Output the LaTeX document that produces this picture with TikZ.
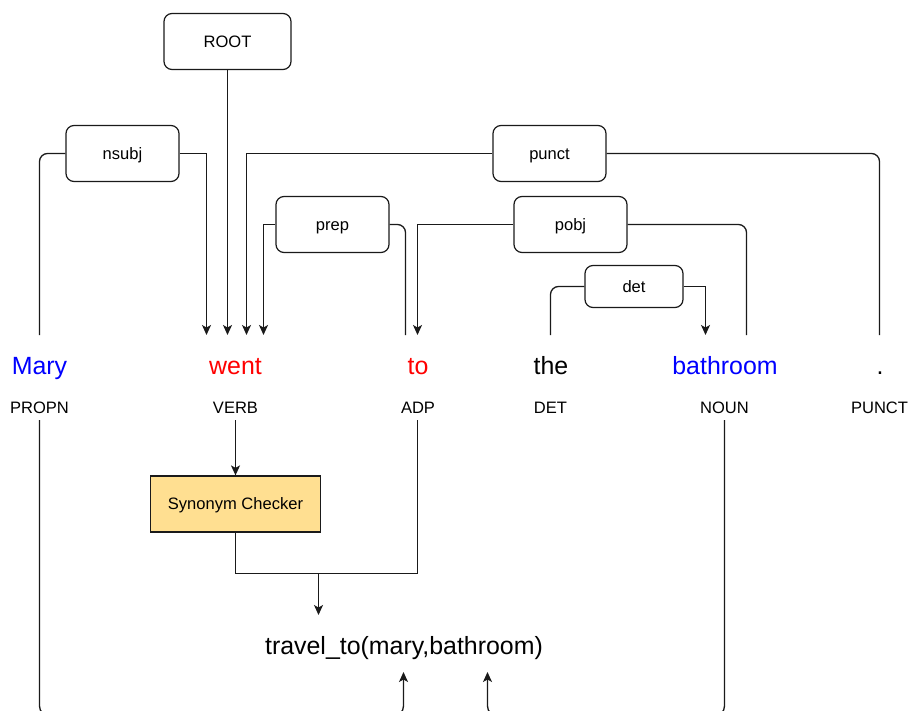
\documentclass[tikz,border=0pt]{standalone}
\usepackage{fontspec}
\setmainfont{Liberation Sans}
\usetikzlibrary{arrows.meta}
\definecolor{synfill}{HTML}{FFDF91}
\definecolor{edge}{HTML}{1A1A1A}
\begin{document}
\begin{tikzpicture}[x=1bp,y=-1bp,
  line width=1.3bp,
  ln/.style={draw=edge},
  lbl/.style={draw=edge, line width=1.2bp, rounded corners=8bp, minimum width=113bp, minimum height=57bp, inner sep=0pt,
    font=\fontsize{16.6}{19}\selectfont, text height=11.9pt, text depth=0pt},
  word/.style={anchor=base, inner sep=0pt, font=\fontsize{25}{30}\selectfont},
  postag/.style={anchor=base, inner sep=0pt, font=\fontsize{16.6}{19}\selectfont},
  arr/.style={ln, -{Stealth[length=10bp,width=9bp,inset=2.5bp]}},
  rnd/.style={ln, rounded corners=8bp},
]
\useasboundingbox (0,0) rectangle (910,711);
\clip (0,0) rectangle (910,711);

% words
\node[word, text=blue] (w1) at (39.5,374) {Mary};
\node[word, text=red]  (w2) at (235.5,374) {went};
\node[word, text=red]  (w3) at (418,374) {to};
\node[word]            (w4) at (551,374) {the};
\node[word, text=blue] (w5) at (725,374) {bathroom};
\node[word]            (w6) at (880,374) {.};

% POS tags
\node[postag] (p1) at (39.5,413) {PROPN};
\node[postag] (p2) at (235.5,413) {VERB};
\node[postag] (p3) at (418,413) {ADP};
\node[postag] (p4) at (550.5,413) {DET};
\node[postag] (p5) at (724.5,413) {NOUN};
\node[postag] (p6) at (879.5,413) {PUNCT};

% dependency label boxes
\node[lbl, minimum width=127bp, minimum height=56bp] (root) at (227.5,41.5) {ROOT};
\node[lbl, minimum height=56bp] (nsubj) at (122.5,153.5) {nsubj};
\node[lbl, minimum height=56bp] (punct) at (549.5,153.5) {punct};
\node[lbl, minimum height=56bp] (prep) at (332.5,224.5) {prep};
\node[lbl, minimum height=56bp] (pobj) at (570.5,224.5) {pobj};
\node[lbl, minimum width=98bp, minimum height=42bp] (det) at (634,286.5) {det};

% attachment points above the words
\coordinate (maryT) at (39.5,335);
\coordinate (wentA) at (206.5,335);
\coordinate (wentB) at (227.5,335);
\coordinate (wentC) at (246.5,335);
\coordinate (wentD) at (263.5,335);
\coordinate (toA)   at (405.5,335);
\coordinate (toB)   at (417.5,335);
\coordinate (theT)  at (550.5,335);
\coordinate (bathA) at (705.5,335);
\coordinate (bathB) at (746.5,335);
\coordinate (dotT)  at (879.5,335);

% dependency arcs
\draw[rnd] (maryT) |- (nsubj.west);
\draw[arr] (nsubj.east) -| (wentA);
\draw[arr] (root.south) -- (wentB);
\draw[rnd] (dotT) |- (punct.east);
\draw[arr] (punct.west) -| (wentC);
\draw[rnd] (toA) |- (prep.east);
\draw[arr] (prep.west) -| (wentD);
\draw[rnd] (bathB) |- (pobj.east);
\draw[arr] (pobj.west) -| (toB);
\draw[rnd] (theT) |- (det.west);
\draw[arr] (det.east) -| (bathA);

% lower part
\node[draw=edge, line width=1.2bp, fill=synfill, minimum width=170bp, minimum height=56bp, inner sep=0pt,
  font=\fontsize{16.6}{19}\selectfont, text height=11.9pt, text depth=0pt] (syn) at (235.5,504) {Synonym Checker};
\node[word] (out) at (404,654) {travel\_to(mary,bathroom)};

\coordinate (verbB) at (235.5,420);
\coordinate (adpB)  at (417.5,420);
\coordinate (propnB) at (39.5,420);
\coordinate (nounB) at (724.5,420);
\coordinate (join)  at (318.5,573.5);
\coordinate (outT)  at (318.5,615);
\coordinate (outL)  at (403.5,672);
\coordinate (outR)  at (487.5,672);
\coordinate (botL)  at (403.5,716);
\coordinate (botR)  at (487.5,716);

\draw[arr] (verbB) -- (syn.north);
\draw[ln] (syn.south) |- (join) -| (adpB);
\draw[arr] (join) -- (outT);
\draw[arr, rounded corners=10bp] (propnB) |- (botL) -- (outL);
\draw[arr, rounded corners=10bp] (nounB) |- (botR) -- (outR);
\end{tikzpicture}
\end{document}
